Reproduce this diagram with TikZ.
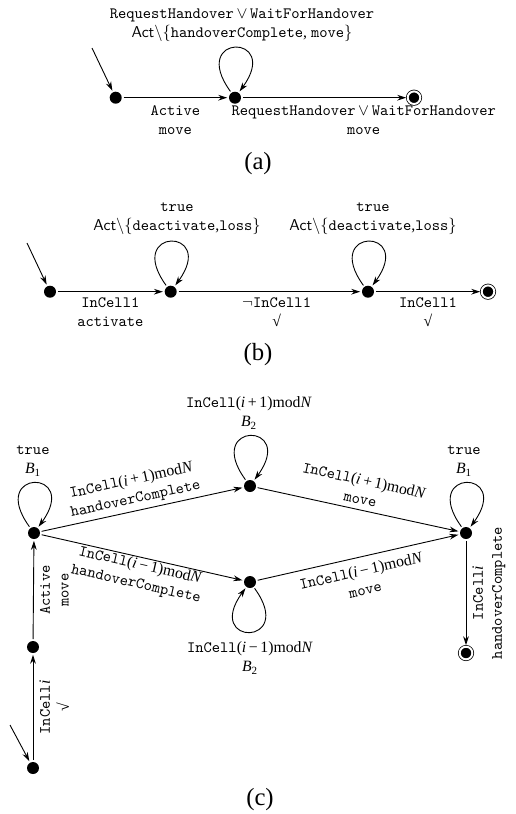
\documentclass[tikz,border=0pt]{standalone}
\usepackage{fontspec}
\setmainfont{Liberation Serif}
\usetikzlibrary{arrows.meta}
\newcommand{\mytt}[1]{\texttt{#1}}
\newcommand{\ck}{√}
\begin{document}
\begin{tikzpicture}[x=0.6667pt,y=0.6667pt,
  dot/.style={circle,fill=black,inner sep=0pt,minimum size=8pt,outer sep=1.2pt},
  fin/.style={circle,draw=black,fill=black,double=white,double distance=1.3pt,line width=0.5pt,inner sep=0pt,minimum size=8.4pt,outer sep=1pt},
  arr/.style={-{Stealth[length=6pt,width=3.8pt]}, line width=0.6pt},
  lab/.style={font=\fontsize{10.5}{12.6}\selectfont, align=center, inner sep=2.5pt},
  vlab/.style={lab, midway, rotate=90, anchor=north, inner ysep=4pt},
  captxt/.style={font=\fontsize{16.5}{19}\selectfont},
]
\useasboundingbox (0,0) rectangle (516,-814);

% ---------- (a)
\node[dot] (a1) at (115.7,-97.7) {};
\node[dot] (a2) at (235,-97.7) {};
\node[fin] (a3) at (414,-97.7) {};
\coordinate (ia) at (92,-48);
\draw[arr] (ia) -- (a1);
\draw[arr] (a1) -- node[lab,below=2.5pt]{\mytt{Active}\\ \mytt{move}} (a2);
\draw[arr] (a2) -- node[lab,below=2.5pt,pos=0.74]{\mytt{RequestHandover}\,$\vee$\,\mytt{WaitForHandover}\\ \mytt{move}} (a3);
\draw[arr] (a2) .. controls +(126:80) and +(54:80) .. (a2);
\node[lab] (la2) at (242,-25) {\mytt{RequestHandover}\,$\vee$\,\mytt{WaitForHandover}\\ \textsf{Act}$\backslash\{$\mytt{handoverComplete}, \mytt{move}$\}$};
\node[captxt] (capa) at (258,-164) {(a)};

% ---------- (b)
\node[dot] (b1) at (50,-291.7) {};
\node[dot] (b2) at (170.7,-291.7) {};
\node[dot] (b3) at (368,-291.7) {};
\node[fin] (b4) at (488,-291.7) {};
\coordinate (ib) at (27,-243);
\draw[arr] (ib) -- (b1);
\draw[arr] (b1) -- node[lab,below=1.5pt]{\mytt{InCell1}\\ \mytt{activate}} (b2);
\draw[arr] (b2) -- node[lab,below=1.5pt,pos=0.54]{$\neg$\mytt{InCell1}\\ \ck} (b3);
\draw[arr] (b3) -- node[lab,below=1.5pt]{\mytt{InCell1}\\ \ck} (b4);
\draw[arr] (b2) .. controls +(126:80) and +(54:80) .. (b2);
\draw[arr] (b3) .. controls +(126:80) and +(54:80) .. (b3);
\node[lab] (lb2) at (177,-219) {\mytt{true}\\ \textsf{Act}$\backslash\{$\mytt{deactivate},\mytt{loss}$\}$};
\node[lab] (lb3) at (373,-219) {\mytt{true}\\ \textsf{Act}$\backslash\{$\mytt{deactivate},\mytt{loss}$\}$};
\node[captxt] (capb) at (258,-355) {(b)};

% ---------- (c)
\node[dot] (c1) at (34,-533) {};
\node[dot] (c2) at (250,-486) {};
\node[dot] (c3) at (250,-582) {};
\node[dot] (c4) at (466,-533) {};
\node[dot] (c5) at (33,-647) {};
\node[dot] (c0) at (33,-768) {};
\node[fin] (c6) at (466,-653) {};
\coordinate (ic) at (10,-725);
\draw[arr] (ic) -- (c0);
\draw[arr] (c0) -- node[vlab]{\mytt{InCell}\textit{i}\\ \ck} (c5);
\draw[arr] (c5) -- node[vlab]{\mytt{Active}\\ \mytt{move}} (c1);
\draw[arr] (c1) -- node[lab,sloped,above,pos=0.48]{\mytt{InCell}(\textit{i}\,+\,1)mod\textit{N}\\ \mytt{handoverComplete}} (c2);
\draw[arr] (c1) -- node[lab,sloped,below=-2pt]{\mytt{InCell}(\textit{i}\,−\,1)mod\textit{N}\\ \mytt{handoverComplete}} (c3);
\draw[arr] (c2) -- node[lab,sloped,above=1pt]{\mytt{InCell}(\textit{i}\,+\,1)mod\textit{N}\\ \mytt{move}} (c4);
\draw[arr] (c3) -- node[lab,sloped,below=2.5pt]{\mytt{InCell}(\textit{i}\,−\,1)mod\textit{N}\\ \mytt{move}} (c4);
\draw[arr] (c4) -- node[vlab]{\mytt{InCell}\textit{i}\\ \mytt{handoverComplete}} (c6);
\draw[arr] (c1) .. controls +(126:80) and +(54:80) .. (c1);
\draw[arr] (c2) .. controls +(126:80) and +(54:80) .. (c2);
\draw[arr] (c4) .. controls +(126:80) and +(54:80) .. (c4);
\draw[arr] (c3) .. controls +(-54:80) and +(-126:80) .. (c3);
\node[lab] (lc1) at (33,-461) {\mytt{true}\\ \textit{B}\textsubscript{1}};
\node[lab] (lc2) at (249,-413) {\mytt{InCell}(\textit{i}\,+\,1)mod\textit{N}\\ \textit{B}\textsubscript{2}};
\node[lab] (lc4) at (464,-461) {\mytt{true}\\ \textit{B}\textsubscript{1}};
\node[lab] (lc3) at (250,-658) {\mytt{InCell}(\textit{i}\,−\,1)mod\textit{N}\\ \textit{B}\textsubscript{2}};
\node[captxt] (capc) at (260,-800) {(c)};
\end{tikzpicture}
\end{document}
